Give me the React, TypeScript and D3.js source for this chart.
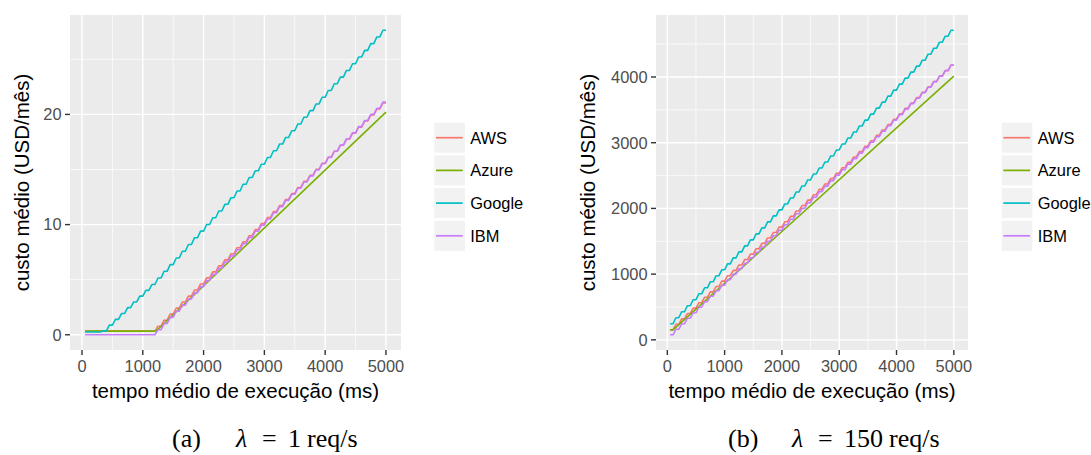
import React from "react";
import * as d3 from "d3";

// ---------- data ----------
const providers = ["AWS", "Azure", "Google", "IBM"];
const providerColors = ["#F8766D", "#7CAE00", "#00BFC4", "#C77CFF"];

// sampling grid (ms) of the mean execution time
const sampleTimes = d3.range(50, 5001, 50);

// cost levels (USD/month) for each billed 100 ms block (100 ms .. 5000 ms)
// panel (a): lambda = 1 req/s
const awsA = [0.33,0.33,0.33,0.33,0.33,0.33,0.33,0.33,0.33,0.33,0.33,0.33,0.78,1.32,1.87,2.42,2.97,3.51,4.06,4.61,5.16,5.71,6.25,6.80,7.35,7.90,8.44,8.99,9.54,10.09,10.63,11.18,11.73,12.28,12.82,13.37,13.92,14.47,15.01,15.56,16.11,16.66,17.20,17.75,18.30,18.85,19.40,19.94,20.49,21.04];
const googleA = [0.25,0.25,0.25,0.35,0.88,1.40,1.93,2.46,2.98,3.51,4.03,4.56,5.15,5.76,6.37,6.97,7.58,8.19,8.80,9.41,10.01,10.62,11.23,11.84,12.44,13.05,13.66,14.27,14.88,15.48,16.09,16.70,17.31,17.91,18.52,19.13,19.74,20.34,20.95,21.56,22.17,22.78,23.38,23.99,24.60,25.21,25.81,26.42,27.03,27.64];
const ibmA = [0,0,0,0,0,0,0,0,0,0,0,0,0.46,1.02,1.58,2.14,2.69,3.25,3.81,4.37,4.93,5.49,6.04,6.60,7.16,7.72,8.28,8.84,9.40,9.95,10.51,11.07,11.63,12.19,12.75,13.30,13.86,14.42,14.98,15.54,16.10,16.65,17.21,17.77,18.33,18.89,19.45,20.01,20.56,21.12];
const azureTimesA = [50, 1200, 1250, 5000];
const azureA = [0.33, 0.33, 0.50, 20.21];

// panel (b): lambda = 150 req/s
const awsB = [154.1,236.3,318.4,400.5,482.7,564.8,647.0,729.1,811.2,893.4,975.5,1057.7,1139.8,1222.0,1304.1,1386.2,1468.4,1550.5,1632.7,1714.8,1796.9,1879.1,1961.2,2043.4,2125.5,2207.7,2289.8,2371.9,2454.1,2536.2,2618.4,2700.5,2782.6,2864.8,2946.9,3029.1,3111.2,3193.4,3275.5,3357.6,3439.8,3521.9,3604.1,3686.2,3768.3,3850.5,3932.6,4014.8,4096.9,4179.0];
const googleB = [245.0,336.2,427.4,518.5,609.7,700.8,792.0,883.2,974.3,1065.5,1156.6,1247.8,1338.9,1430.1,1521.3,1612.4,1703.6,1794.7,1885.9,1977.1,2068.2,2159.4,2250.5,2341.7,2432.9,2524.0,2615.2,2706.3,2797.5,2888.6,2979.8,3071.0,3162.1,3253.3,3344.4,3435.6,3526.8,3617.9,3709.1,3800.2,3891.4,3982.6,4073.7,4164.9,4256.0,4347.2,4438.3,4529.5,4620.7,4711.8];
const ibmB = [77.0,160.7,244.5,328.3,412.0,495.8,579.6,663.3,747.1,830.9,914.6,998.4,1082.2,1165.9,1249.7,1333.5,1417.2,1501.0,1584.8,1668.6,1752.3,1836.1,1919.9,2003.6,2087.4,2171.2,2254.9,2338.7,2422.5,2506.2,2590.0,2673.8,2757.5,2841.3,2925.1,3008.8,3092.6,3176.4,3260.1,3343.9,3427.7,3511.4,3595.2,3679.0,3762.7,3846.5,3930.3,4014.0,4097.8,4181.6];
const azureTimesB = [50, 100, 5000];
const azureB = [151.1, 151.1, 4014.2];

const xTicks = [0, 1000, 2000, 3000, 4000, 5000];
const xMinor = [500, 1500, 2500, 3500, 4500];
const yTicksA = [0, 10, 20];
const yMinorA = [5, 15, 25];
const yTicksB = [0, 1000, 2000, 3000, 4000];
const yMinorB = [500, 1500, 2500, 3500, 4500];

const xTitle = "tempo médio de execução (ms)";
const yTitle = "custo médio (USD/mês)";
const captionA = { label: "(a)", rate: "1" };
const captionB = { label: "(b)", rate: "150" };

// ---------- helpers ----------
type Pt = [number, number];
function stair(levels: number[]): Pt[] {
  return sampleTimes.map((t) => [t, levels[Math.ceil(t / 100) - 1]] as Pt);
}
function pairs(ts: number[], vs: number[]): Pt[] {
  return ts.map((t, i) => [t, vs[i]] as Pt);
}

const SANS = "'Liberation Sans', Arial, Helvetica, sans-serif";
const SERIF = "'Liberation Serif', 'Times New Roman', serif";

interface PanelProps {
  x0: number; x1: number; y0: number; y1: number;
  series: Pt[][];
  yTicks: number[]; yMinor: number[];
  legendX: number;
  yTitleX: number;
}

function Panel(p: PanelProps) {
  const allX = p.series.flat().map((d) => d[0]);
  const allY = p.series.flat().map((d) => d[1]);
  const [xmin, xmax] = d3.extent(allX) as [number, number];
  const [ymin, ymax] = d3.extent(allY) as [number, number];
  const xr = xmax - xmin, yr = ymax - ymin;
  const x = d3.scaleLinear().domain([xmin - 0.05 * xr, xmax + 0.05 * xr]).range([p.x0, p.x1]);
  const y = d3.scaleLinear().domain([ymin - 0.05 * yr, ymax + 0.05 * yr]).range([p.y1, p.y0]);
  const line = d3.line<Pt>().x((d) => x(d[0])).y((d) => y(d[1]));
  const cx = (p.x0 + p.x1) / 2;
  const cy = (p.y0 + p.y1) / 2;
  const keyH = 30, keyGap = 32.7, keyW = 30.7, keyTop = 122.7;
  return (
    <g>
      <rect x={p.x0} y={p.y0} width={p.x1 - p.x0} height={p.y1 - p.y0} fill="#EBEBEB" />
      {xMinor.map((v) => (
        <line key={"xm" + v} x1={x(v)} x2={x(v)} y1={p.y0} y2={p.y1} stroke="#fff" strokeWidth={0.7} />
      ))}
      {p.yMinor.map((v) => (
        <line key={"ym" + v} x1={p.x0} x2={p.x1} y1={y(v)} y2={y(v)} stroke="#fff" strokeWidth={0.7} />
      ))}
      {xTicks.map((v) => (
        <line key={"xM" + v} x1={x(v)} x2={x(v)} y1={p.y0} y2={p.y1} stroke="#fff" strokeWidth={1.4} />
      ))}
      {p.yTicks.map((v) => (
        <line key={"yM" + v} x1={p.x0} x2={p.x1} y1={y(v)} y2={y(v)} stroke="#fff" strokeWidth={1.4} />
      ))}
      {p.series.map((s, i) => (
        <path key={"s" + i} d={line(s) || ""} fill="none" stroke={providerColors[i]} strokeWidth={1.6} strokeLinejoin="round" />
      ))}
      {xTicks.map((v) => (
        <g key={"xt" + v}>
          <line x1={x(v)} x2={x(v)} y1={p.y1} y2={p.y1 + 5} stroke="#333" strokeWidth={1.4} />
          <text x={x(v)} y={371.7} textAnchor="middle" fontFamily={SANS} fontSize={16.4} fill="#4D4D4D">{v}</text>
        </g>
      ))}
      {p.yTicks.map((v) => (
        <g key={"yt" + v}>
          <line x1={p.x0 - 5} x2={p.x0} y1={y(v)} y2={y(v)} stroke="#333" strokeWidth={1.4} />
          <text x={p.x0 - 8.5} y={y(v)} dy="0.36em" textAnchor="end" fontFamily={SANS} fontSize={16.4} fill="#4D4D4D">{v}</text>
        </g>
      ))}
      <text x={cx} y={398} textAnchor="middle" fontFamily={SANS} fontSize={20.5} fill="#000">{xTitle}</text>
      <text transform={`translate(${p.yTitleX},${cy}) rotate(-90)`} textAnchor="middle" fontFamily={SANS} fontSize={20.5} fill="#000">{yTitle}</text>
      {providers.map((name, i) => {
        const top = keyTop + i * keyGap;
        return (
          <g key={"lg" + name}>
            <rect x={p.legendX} y={top} width={keyW} height={keyH} fill="#F2F2F2" />
            <line x1={p.legendX + 1.7} x2={p.legendX + keyW - 2.3} y1={top + keyH / 2} y2={top + keyH / 2} stroke={providerColors[i]} strokeWidth={1.7} />
            <text x={p.legendX + keyW + 5.3} y={top + keyH / 2} dy="0.36em" fontFamily={SANS} fontSize={16.4} fill="#000">{name}</text>
          </g>
        );
      })}
    </g>
  );
}

function Caption({ x, label, rate }: { x: number; label: string; rate: string }) {
  const fs = 26;
  const lamX = x + 64;
  const eqX = lamX + 26;
  const numX = eqX + 26;
  const unitX = numX + rate.length * 13 + 6;
  return (
    <text y={447} fontFamily={SERIF} fontSize={fs} fill="#000">
      <tspan x={x}>{label}</tspan>
      <tspan x={lamX} fontStyle="italic">λ</tspan>
      <tspan x={eqX}>=</tspan>
      <tspan x={numX}>{rate}</tspan>
      <tspan x={unitX}>req/s</tspan>
    </text>
  );
}

export default function App() {
  const seriesA: Pt[][] = [stair(awsA), pairs(azureTimesA, azureA), stair(googleA), stair(ibmA)];
  const seriesB: Pt[][] = [stair(awsB), pairs(azureTimesB, azureB), stair(googleB), stair(ibmB)];
  return (
    <svg width={1091} height={455} style={{ position: "absolute", left: 0, top: 0, background: "#fff" }}>
      <rect width={1091} height={455} fill="#fff" />
      <Panel x0={70} x1={401} y0={15} y1={350} series={seriesA} yTicks={yTicksA} yMinor={yMinorA} legendX={434.3} yTitleX={29} />
      <Panel x0={656} x1={968} y0={15} y1={350} series={seriesB} yTicks={yTicksB} yMinor={yMinorB} legendX={1001.7} yTitleX={595} />
      <Caption x={172} label={captionA.label} rate={captionA.rate} />
      <Caption x={728} label={captionB.label} rate={captionB.rate} />
    </svg>
  );
}
